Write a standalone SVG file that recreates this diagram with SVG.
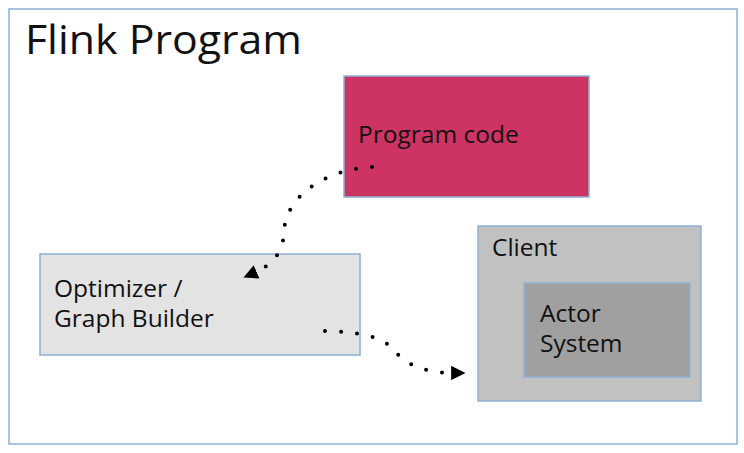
<svg xmlns="http://www.w3.org/2000/svg" width="744" height="453" viewBox="0 0 744 453">
<defs>
<style>
text{font-family:"Open Sans","Noto Sans","DejaVu Sans",sans-serif;fill:#111}
.box{stroke:#8FB0D6;stroke-width:1.5}
.lbl{font-size:24.5px}
.conn{fill:none;stroke:#000;stroke-width:4;stroke-linecap:round;stroke-dasharray:0 16}
</style>
<marker id="arr" viewBox="0 0 10 10" refX="2" refY="5" markerWidth="3.6" markerHeight="3.6" orient="auto" markerUnits="strokeWidth">
<path d="M0,0 L10,5 L0,10 z" fill="#000"/>
</marker>
</defs>
<rect width="744" height="453" fill="#fff"/>
<g id="flink-program">
<rect x="9" y="9" width="728" height="435" fill="#fff" class="box"/>
<text x="25" y="54" font-size="41" textLength="277" lengthAdjust="spacingAndGlyphs">Flink Program</text>
</g>
<g id="program-code">
<rect x="344" y="76" width="245" height="121" fill="#CD3363" class="box"/>
<text x="358" y="143" class="lbl">Program code</text>
</g>
<g id="optimizer">
<rect x="40" y="254" width="320" height="101" fill="#E3E3E3" class="box"/>
<text x="54" y="297" class="lbl">Optimizer /</text>
<text x="54" y="327" class="lbl">Graph Builder</text>
</g>
<g id="client">
<rect x="478" y="226" width="223" height="175" fill="#C1C1C1" class="box"/>
<text x="492" y="256" class="lbl">Client</text>
</g>
<g id="actor-system">
<rect x="524" y="283" width="166" height="94" fill="#A0A0A0" class="box"/>
<text x="540" y="322" class="lbl">Actor</text>
<text x="540" y="352" class="lbl">System</text>
</g>
<g id="connectors">
<path class="conn" d="M372,167 C322,170 285,198 284,232 C283,255 270,266 254,273" marker-end="url(#arr)"/>
<path class="conn" d="M325,331 C360,332 380,336 392,348 C403,362 420,373 454,373" marker-end="url(#arr)"/>
</g>
</svg>
